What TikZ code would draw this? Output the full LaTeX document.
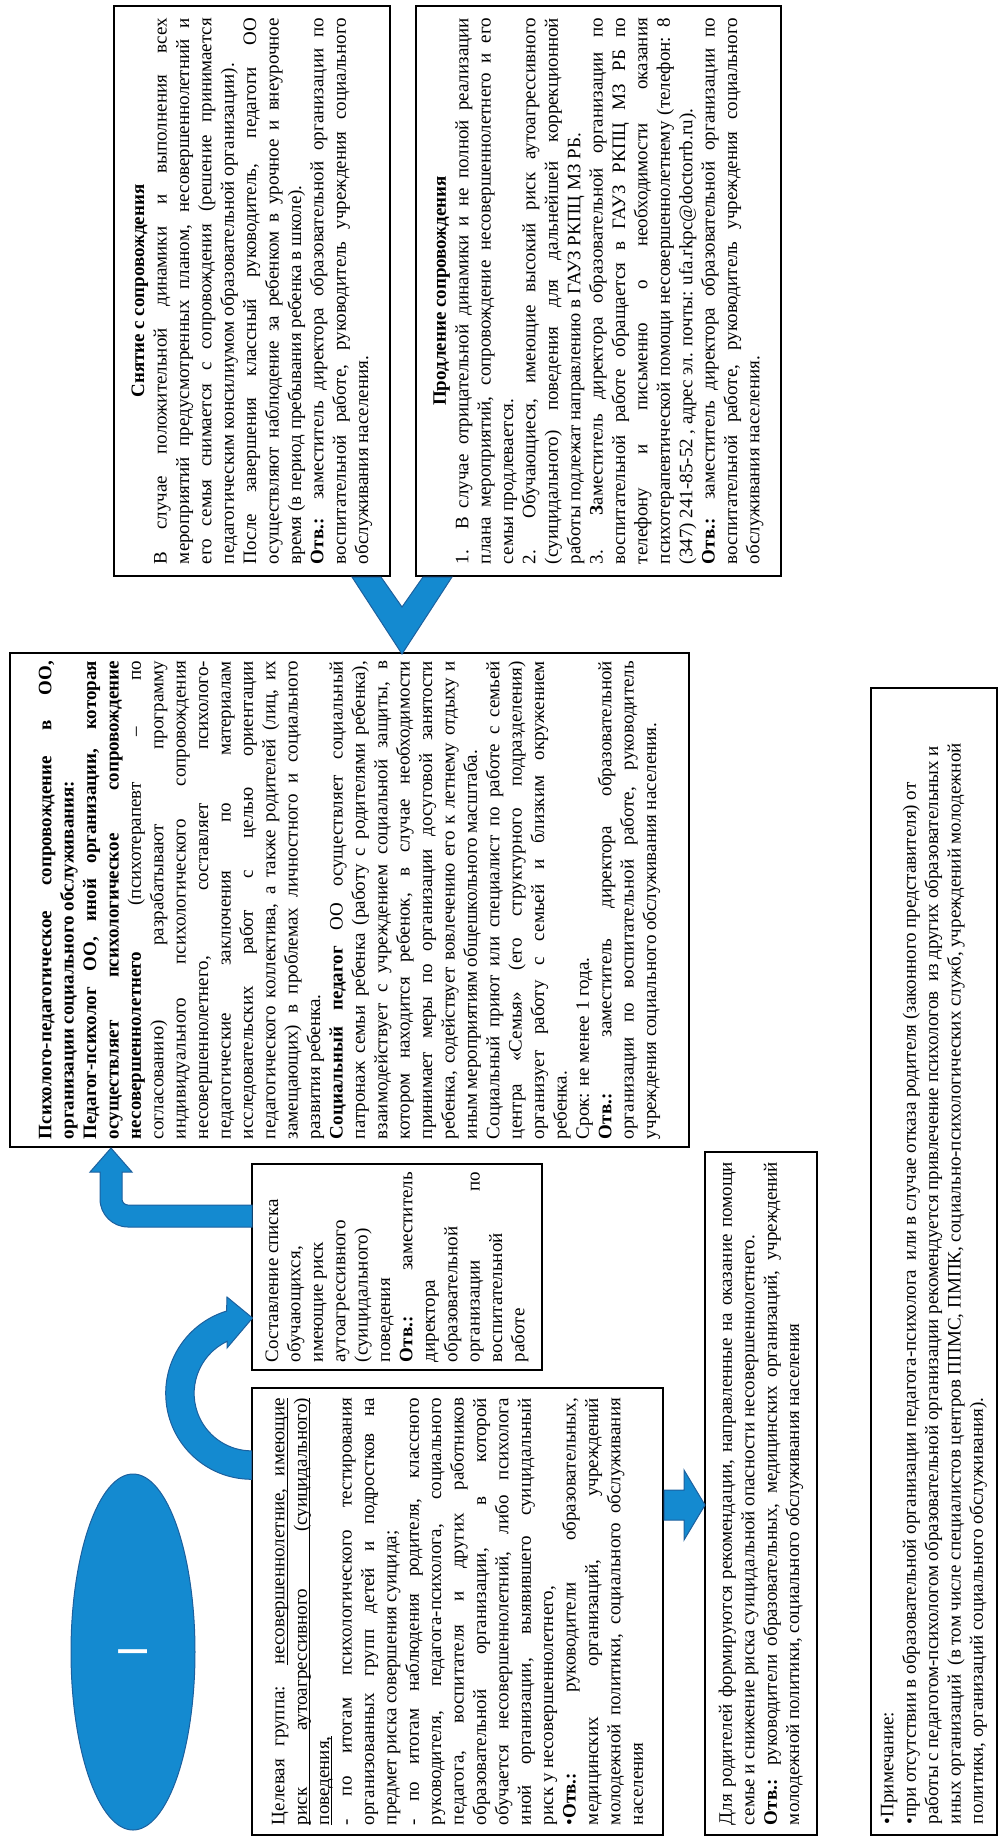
\documentclass[tikz,border=0pt]{standalone}
\usepackage{fontspec}
\setmainfont{Liberation Serif}
\newfontfamily\sansfnt{Liberation Sans}
\usetikzlibrary{shapes.geometric}
\definecolor{arrowfill}{RGB}{20,138,208}
\definecolor{arrowline}{RGB}{28,96,158}
\newcommand\txtbox[2]{\parbox{#1}{\fontsize{19}{22.4}\selectfont\hyphenpenalty=10000\exhyphenpenalty=10000\tolerance=10000\hbadness=10000\parindent=0pt #2}}
\newcommand\ragbox[2]{\parbox{#1}{\fontsize{19}{22.4}\selectfont\hyphenpenalty=10000\exhyphenpenalty=10000\parindent=0pt\raggedright #2}}
% underlined word and underlined stretchable space
\newcommand\ulw[1]{\setbox0\hbox{#1}\rlap{\vrule height -2.2pt depth 3.2pt width \wd0}\box0}
\newcommand\uls{\leaders\hrule height -2.2pt depth 3.2pt\hskip\fontdimen2\font plus\fontdimen3\font minus\fontdimen4\font}
\begin{document}
\begin{tikzpicture}[x=1pt,y=-1pt,
  box/.style={draw=black, line width=1.4pt, rotate=90, inner sep=0pt, fill=white},
  barrow/.style={fill=arrowfill, draw=arrowline, line width=1pt, line join=miter}]
\useasboundingbox (0,0) rectangle (1000,1844);

% ---------- boxes ----------
\node[box, minimum width=570pt, minimum height=276pt] (snyat) at (252,291) {\txtbox{546pt}{%
\makebox[\linewidth][c]{\bfseries Снятие с сопровождения}\\
В случае положительной динамики и выполнения всех\linebreak
мероприятий предусмотренных планом, несовершеннолетний и\linebreak
его семья снимается с сопровождения (решение принимается\linebreak
педагогическим консилиумом образовательной организации).\\
После завершения классный руководитель, педагоги ОО\linebreak
осуществляют наблюдение за ребенком в урочное и внеурочное\linebreak
время (в период пребывания ребенка в школе).\\
\textbf{Отв.:} заместитель директора образовательной организации по\linebreak
воспитательной работе, руководитель учреждения социального\linebreak
обслуживания населения.}};

\node[box, minimum width=570pt, minimum height=365pt] (prodl) at (598.5,291) {\txtbox{546pt}{%
\makebox[\linewidth][c]{\bfseries Продление сопровождения}\\
1. В случае отрицательной динамики и не полной реализации\linebreak
плана мероприятий, сопровождение несовершеннолетнего и его\linebreak
семьи продлевается.\\
2. Обучающиеся, имеющие высокий риск аутоагрессивного\linebreak
(суицидального) поведения для дальнейшей коррекционной\linebreak
работы подлежат направлению в ГАУЗ РКПЦ МЗ РБ.\\
3. {\bfseries З}аместитель директора образовательной организации по\linebreak
воспитательной работе обращается в ГАУЗ РКПЦ МЗ РБ по\linebreak
телефону и письменно о необходимости оказания\linebreak
психотерапевтической помощи несовершеннолетнему (телефон: 8\linebreak
(347) 241-85-52 , адрес эл. почты: ufa.rkpc@doctorrb.ru).\\
\textbf{Отв.:} заместитель директора образовательной организации по\linebreak
воспитательной работе, руководитель учреждения социального\linebreak
обслуживания населения.}};

\node[box, minimum width=494pt, minimum height=679pt] (big) at (349.5,900) {\txtbox{478pt}{%
\textbf{Психолого-педагогическое сопровождение в ОО,}\linebreak
\textbf{организации социального обслуживания:}\\
\textbf{Педагог-психолог ОО, иной организации, которая}\linebreak
\textbf{осуществляет психологическое сопровождение}\linebreak
\textbf{несовершеннолетнего} (психотерапевт – по\linebreak
согласованию) разрабатывают программу\linebreak
индивидуального психологического сопровождения\linebreak
несовершеннолетнего, составляет психолого-\linebreak
педагогические заключения по материалам\linebreak
исследовательских работ с целью ориентации\linebreak
педагогического коллектива, а также родителей (лиц, их\linebreak
замещающих) в проблемах личностного и социального\linebreak
развития ребенка.\\
\textbf{Социальный педагог} ОО осуществляет социальный\linebreak
патронаж семьи ребенка (работу с родителями ребенка),\linebreak
взаимодействует с учреждением социальной защиты, в\linebreak
котором находится ребенок, в случае необходимости\linebreak
принимает меры по организации досуговой занятости\linebreak
ребенка, содействует вовлечению его к летнему отдыху и\linebreak
иным мероприятиям общешкольного масштаба.\\
Социальный приют или специалист по работе с семьей\linebreak
центра «Семья» (его структурного подразделения)\linebreak
организует работу с семьей и близким окружением\linebreak
ребенка.\\
Срок: не менее 1 года.\\
\textbf{Отв.:} заместитель директора образовательной\linebreak
организации по воспитательной работе, руководитель\linebreak
учреждения социального обслуживания населения.}};

\node[box, minimum width=206pt, minimum height=290pt] (sost) at (397,1267) {\txtbox{190pt}{%
Составление списка\\
обучающихся,\\
имеющие риск\\
аутоагрессивного\\
(суицидального)\\
поведения\\
\textbf{Отв.:} заместитель\linebreak
директора\\
образовательной\\
организации по\linebreak
воспитательной\\
работе}};

\node[box, minimum width=447pt, minimum height=411pt] (tsel) at (457.5,1611.5) {\txtbox{427pt}{%
Целевая группа: \ulw{несовершеннолетние,}\uls\ulw{имеющие}\linebreak
\ulw{риск}\uls\ulw{аутоагрессивного}\uls\ulw{(суицидального)}\linebreak
\ulw{поведения,}\\
- по итогам психологического тестирования\linebreak
организованных групп детей и подростков на\linebreak
предмет риска совершения суицида;\\
- по итогам наблюдения родителя, классного\linebreak
руководителя, педагога-психолога, социального\linebreak
педагога, воспитателя и других работников\linebreak
образовательной организации, в которой\linebreak
обучается несовершеннолетний, либо психолога\linebreak
иной организации, выявившего суицидальный\linebreak
риск у несовершеннолетнего,\\
•\textbf{Отв.:} руководители образовательных,\linebreak
медицинских организаций, учреждений\linebreak
молодежной политики, социального обслуживания\linebreak
населения}};

\node[box, minimum width=683pt, minimum height=112pt] (rodit) at (761,1493.5) {\txtbox{663pt}{%
Для родителей формируются рекомендации, направленные на оказание помощи\linebreak
семье и снижение риска суицидальной опасности несовершеннолетнего.\\
\textbf{Отв.:} руководители образовательных, медицинских организаций, учреждений\linebreak
молодежной политики, социального обслуживания населения}};

\node[box, minimum width=1147pt, minimum height=126pt] (prim) at (934,1261.5) {\ragbox{1125pt}{%
•Примечание:\\
•при отсутствии в образовательной организации педагога-психолога\ \ или в случае отказа родителя (законного представителя) от\\
работы с педагогом-психологом образовательной организации рекомендуется привлечение психологов\ \ из других образовательных и\\
иных организаций\ \ (в том числе специалистов центров ППМС, ПМПК, социально-психологических служб, учреждений молодежной\\
политики, организаций социального обслуживания).}};

\node[ellipse, fill=arrowfill, draw=arrowline, line width=1pt, rotate=90,
      minimum width=356pt, minimum height=124pt, inner sep=0pt, text=white,
      font={\sansfnt\fontsize{42}{42}\selectfont}] (ell) at (133,1652) {I};

% ---------- block arrows ----------
% curved arrow: target group -> list
\path[barrow] (251.7,1479.3) arc[start angle=270, end angle=107, radius=86pt]
  -- (227,1297) -- (252.5,1318) -- (227,1348) -- (227,1341.4)
  arc[start angle=115.4, end angle=270, radius=57.5pt] -- cycle;

% bent arrow: list -> main box
\path[barrow] (252,1205) -- (128,1205) arc[start angle=270, end angle=180, radius=6pt]
  -- (122,1172) -- (132,1172) -- (111,1148) -- (90,1172) -- (100,1172) -- (100,1199)
  arc[start angle=180, end angle=270, radius=28pt] -- (252,1227) -- cycle;

% straight arrow: target group -> parents
\path[barrow] (664,1490) -- (684,1490) -- (684,1470) -- (705,1505) -- (684,1540)
  -- (684,1520) -- (664,1520) -- cycle;

% chevron: main box -> removal / extension
\path[barrow] (352,577) -- (402,654) -- (452,577) -- (423,577) -- (402,607)
  -- (381,577) -- cycle;
\end{tikzpicture}
\end{document}
